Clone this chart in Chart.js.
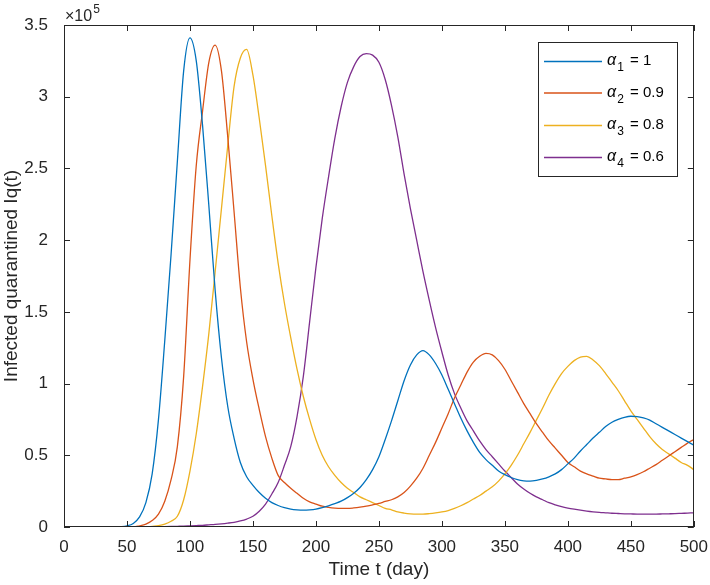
<!DOCTYPE html>
<html>
<head>
<meta charset="utf-8">
<script src="https://cdn.jsdelivr.net/npm/chart.js@4.4.1/dist/chart.umd.min.js"></script>
<style>
  html, body { margin: 0; padding: 0; background: #fff; }
  #wrap { width: 710px; height: 585px; }
</style>
</head>
<body>
<div id="wrap"><canvas id="chart" width="710" height="585"></canvas></div>
<script>
// time axis (days) and the four Iq(t) curves, values in units of 1e5
const days = [
  0, 5, 10, 15, 20, 25, 30, 35, 40, 45,
  50, 55, 60, 65, 70, 75, 80, 85, 90, 95,
  100, 105, 110, 115, 120, 125, 130, 135, 140, 145,
  150, 155, 160, 165, 170, 175, 180, 185, 190, 195,
  200, 205, 210, 215, 220, 225, 230, 235, 240, 245,
  250, 255, 260, 265, 270, 275, 280, 285, 290, 295,
  300, 305, 310, 315, 320, 325, 330, 335, 340, 345,
  350, 355, 360, 365, 370, 375, 380, 385, 390, 395,
  400, 405, 410, 415, 420, 425, 430, 435, 440, 445,
  450, 455, 460, 465, 470, 475, 480, 485, 490, 495,
  500
];

const alpha1 = [
  0, 0, 0, 0, 0, 0, 0, 0, 0, 0.002,
  0.008, 0.025, 0.07, 0.17, 0.37, 0.75, 1.30, 1.90, 2.55, 3.18,
  3.41, 3.25, 2.80, 2.24, 1.65, 1.18, 0.84, 0.62, 0.45, 0.35,
  0.29, 0.24, 0.20, 0.17, 0.15, 0.135, 0.125, 0.12, 0.118, 0.12,
  0.125, 0.135, 0.148, 0.163, 0.18, 0.205, 0.235, 0.275, 0.33, 0.40,
  0.49, 0.61, 0.74, 0.88, 1.02, 1.13, 1.20, 1.23, 1.20, 1.14,
  1.06, 0.96, 0.86, 0.76, 0.67, 0.59, 0.52, 0.47, 0.43, 0.39,
  0.365, 0.345, 0.33, 0.322, 0.32, 0.325, 0.335, 0.35, 0.37, 0.40,
  0.44, 0.48, 0.53, 0.575, 0.62, 0.66, 0.70, 0.73, 0.75, 0.765,
  0.772, 0.77, 0.76, 0.745, 0.72, 0.695, 0.67, 0.645, 0.62, 0.595,
  0.57
];

const alpha2 = [
  0, 0, 0, 0, 0, 0, 0, 0, 0, 0,
  0, 0, 0.008, 0.02, 0.045, 0.09, 0.18, 0.33, 0.56, 1.05,
  1.86, 2.52, 2.90, 3.24, 3.36, 3.18, 2.72, 2.20, 1.67, 1.29,
  1.03, 0.82, 0.63, 0.48, 0.36, 0.31, 0.27, 0.235, 0.20, 0.175,
  0.16, 0.145, 0.137, 0.132, 0.13, 0.13, 0.133, 0.138, 0.145, 0.155,
  0.165, 0.178, 0.19, 0.21, 0.24, 0.285, 0.34, 0.41, 0.50, 0.59,
  0.69, 0.79, 0.90, 0.99, 1.08, 1.15, 1.19, 1.21, 1.20, 1.16,
  1.10, 1.02, 0.94, 0.86, 0.79, 0.72, 0.66, 0.60, 0.55, 0.50,
  0.45, 0.42, 0.39, 0.37, 0.355, 0.34, 0.335, 0.33, 0.33, 0.34,
  0.35, 0.365, 0.385, 0.41, 0.435, 0.465, 0.495, 0.525, 0.555, 0.585,
  0.61
];

const alpha3 = [
  0, 0, 0, 0, 0, 0, 0, 0, 0, 0,
  0, 0, 0, 0, 0.005, 0.01, 0.02, 0.04, 0.075, 0.19,
  0.39, 0.65, 0.98, 1.35, 1.78, 2.22, 2.66, 3.07, 3.27, 3.33,
  3.15, 2.85, 2.52, 2.17, 1.84, 1.56, 1.32, 1.10, 0.91, 0.75,
  0.61, 0.50, 0.42, 0.36, 0.31, 0.27, 0.24, 0.21, 0.19, 0.17,
  0.15, 0.13, 0.12, 0.105, 0.097, 0.092, 0.09, 0.09, 0.093, 0.098,
  0.105, 0.115, 0.13, 0.148, 0.17, 0.195, 0.22, 0.25, 0.28, 0.32,
  0.37, 0.43, 0.50, 0.58, 0.66, 0.745, 0.83, 0.92, 1.00, 1.07,
  1.12, 1.16, 1.185, 1.19, 1.165, 1.125, 1.07, 1.01, 0.95, 0.88,
  0.81, 0.75, 0.69, 0.63, 0.58, 0.54, 0.51, 0.48, 0.45, 0.43,
  0.40
];

const alpha4 = [
  0, 0, 0, 0, 0, 0, 0, 0, 0, 0,
  0, 0, 0, 0, 0, 0.002, 0.003, 0.004, 0.005, 0.006,
  0.008, 0.01, 0.012, 0.015, 0.018, 0.022, 0.027, 0.033, 0.042, 0.055,
  0.075, 0.11, 0.16, 0.23, 0.31, 0.43, 0.56, 0.77, 1.05, 1.43,
  1.81, 2.15, 2.44, 2.71, 2.93, 3.10, 3.21, 3.28, 3.30, 3.29,
  3.24, 3.12, 2.94, 2.72, 2.46, 2.22, 2.00, 1.78, 1.58, 1.39,
  1.22, 1.06, 0.93, 0.83, 0.74, 0.67, 0.60, 0.54, 0.49, 0.44,
  0.39, 0.345, 0.30, 0.265, 0.235, 0.21, 0.19, 0.17, 0.155, 0.142,
  0.132, 0.124, 0.117, 0.111, 0.106, 0.102, 0.099, 0.096, 0.094, 0.092,
  0.091, 0.09, 0.09, 0.09, 0.09, 0.091, 0.092, 0.093, 0.095, 0.097,
  0.099
];

const alphaIndex = ['1', '2', '3', '4'];
const alphaValue = ['1', '0.9', '0.8', '0.6'];
const seriesColors = ['#0072BD', '#D95319', '#EDB120', '#7E2F8E'];

const FONT = "'Liberation Sans', Arial, Helvetica, sans-serif";
const INK = '#262626';

const seriesData = [alpha1, alpha2, alpha3, alpha4];
const datasets = seriesData.map((vals, i) => ({
  label: 'α' + alphaIndex[i] + ' = ' + alphaValue[i],
  data: days.map((d, k) => ({ x: d, y: vals[k] })),
  borderColor: seriesColors[i],
  backgroundColor: seriesColors[i],
  borderWidth: 1.3,
  pointRadius: 0,
  cubicInterpolationMode: 'monotone',
  fill: false
}));

// MATLAB-like frame: box, inward ticks on all sides, x10^5 multiplier
const framePlugin = {
  id: 'frame',
  afterDraw(chart) {
    const { ctx, chartArea: a, scales } = chart;
    ctx.save();
    ctx.strokeStyle = INK;
    ctx.lineWidth = 1;
    ctx.strokeRect(Math.round(a.left) + 0.5, Math.round(a.top) + 0.5,
      Math.round(a.right - a.left) - 1, Math.round(a.bottom - a.top) - 1);
    const len = 6;
    ctx.beginPath();
    scales.x.ticks.forEach(t => {
      const px = Math.round(scales.x.getPixelForValue(t.value)) + 0.5;
      ctx.moveTo(px, a.bottom); ctx.lineTo(px, a.bottom - len);
      ctx.moveTo(px, a.top); ctx.lineTo(px, a.top + len);
    });
    scales.y.ticks.forEach(t => {
      const py = Math.round(scales.y.getPixelForValue(t.value)) + 0.5;
      ctx.moveTo(a.left, py); ctx.lineTo(a.left + len, py);
      ctx.moveTo(a.right, py); ctx.lineTo(a.right - len, py);
    });
    ctx.stroke();

    // exponent label
    ctx.fillStyle = INK;
    ctx.textBaseline = 'alphabetic';
    ctx.textAlign = 'left';
    ctx.font = '16px ' + FONT;
    ctx.fillText('×10', a.left + 1, a.top - 4);
    const w = ctx.measureText('×10').width;
    ctx.font = '12px ' + FONT;
    ctx.fillText('5', a.left + 1 + w + 1, a.top - 12);
    ctx.restore();
  }
};

// legend with subscripted alpha
const legendPlugin = {
  id: 'alphaLegend',
  afterDraw(chart) {
    const { ctx } = chart;
    const box = { x: 538.5, y: 42.5, w: 139, h: 134 };
    ctx.save();
    ctx.fillStyle = '#fff';
    ctx.fillRect(box.x, box.y, box.w, box.h);
    ctx.strokeStyle = INK;
    ctx.lineWidth = 1;
    ctx.strokeRect(box.x, box.y, box.w, box.h);
    const rowY = [61, 92.5, 125, 157];
    chart.data.datasets.forEach((ds, i) => {
      const y = rowY[i];
      ctx.strokeStyle = ds.borderColor;
      ctx.lineWidth = 1.3;
      ctx.beginPath();
      ctx.moveTo(544, y + 0.5);
      ctx.lineTo(602, y + 0.5);
      ctx.stroke();

      ctx.fillStyle = '#000';
      ctx.textBaseline = 'middle';
      ctx.textAlign = 'left';
      let x = 607;
      ctx.font = 'italic 16px ' + FONT;
      ctx.fillText('α', x, y);
      x += ctx.measureText('α').width + 1;
      ctx.font = '12px ' + FONT;
      ctx.fillText(alphaIndex[i], x, y + 7);
      x += ctx.measureText(alphaIndex[i]).width + 2;
      ctx.font = '15px ' + FONT;
      ctx.fillText(' = ' + alphaValue[i], x, y);
    });
    ctx.restore();
  }
};

new Chart(document.getElementById('chart'), {
  type: 'line',
  data: { datasets },
  options: {
    responsive: false,
    animation: false,
    devicePixelRatio: 1,
    layout: { padding: { top: 25, right: 16, left: 0, bottom: 0 } },
    plugins: {
      legend: { display: false },
      tooltip: { enabled: false }
    },
    scales: {
      x: {
        type: 'linear',
        min: 0,
        max: 500,
        grid: { display: false },
        border: { display: false },
        ticks: {
          stepSize: 50,
          maxRotation: 0,
          padding: 2,
          color: INK,
          font: { family: FONT, size: 17 },
          callback: v => String(v)
        },
        title: {
          display: true,
          text: 'Time t (day)',
          color: INK,
          font: { family: FONT, size: 19 },
          padding: { top: 0, bottom: 4 }
        },
        afterFit: s => { s.height = 58; }
      },
      y: {
        type: 'linear',
        min: 0,
        max: 3.5,
        grid: { display: false },
        border: { display: false },
        ticks: {
          stepSize: 0.5,
          padding: 8,
          color: INK,
          font: { family: FONT, size: 17 },
          callback: v => String(v)
        },
        title: {
          display: true,
          text: 'Infected quarantined Iq(t)',
          color: INK,
          font: { family: FONT, size: 19 },
          padding: { top: 0, bottom: 3 }
        },
        afterFit: s => { s.width = 64; }
      }
    }
  },
  plugins: [framePlugin, legendPlugin]
});
</script>
</body>
</html>
